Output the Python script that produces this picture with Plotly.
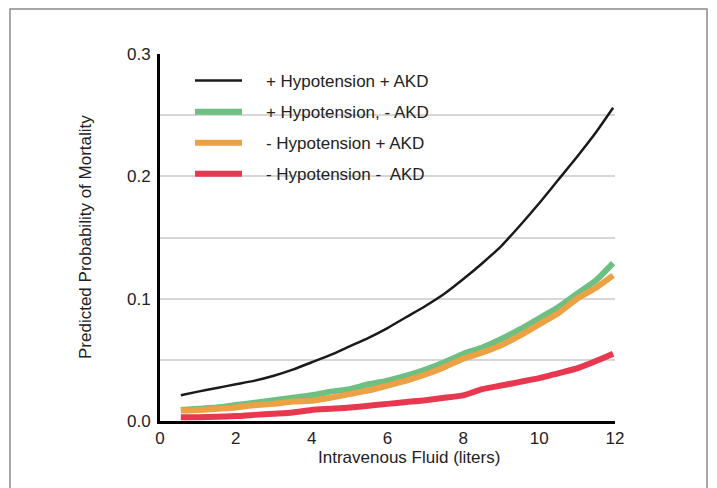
import plotly.graph_objects as go

# Data
fluid = [0.55, 1, 1.5, 2, 2.5, 3, 3.5, 4, 4.5, 5, 5.5, 6, 6.5, 7, 7.5, 8, 8.5, 9, 9.5, 10, 10.5, 11, 11.5, 11.95]
hypo_akd = [0.021, 0.024, 0.027, 0.030, 0.033, 0.037, 0.042, 0.048, 0.054, 0.061, 0.068, 0.076,
            0.085, 0.094, 0.104, 0.116, 0.129, 0.143, 0.160, 0.178, 0.197, 0.216, 0.236, 0.256]
hypo_noakd = [0.009, 0.010, 0.011, 0.013, 0.015, 0.017, 0.019, 0.021, 0.024, 0.026, 0.030, 0.033,
              0.037, 0.042, 0.048, 0.055, 0.060, 0.067, 0.075, 0.084, 0.093, 0.104, 0.115, 0.129]
nohypo_akd = [0.0085, 0.009, 0.010, 0.011, 0.013, 0.014, 0.016, 0.0165, 0.019, 0.022, 0.025, 0.029,
              0.033, 0.038, 0.044, 0.051, 0.056, 0.062, 0.070, 0.079, 0.088, 0.100, 0.109, 0.119]
nohypo_noakd = [0.003, 0.003, 0.0035, 0.004, 0.005, 0.006, 0.007, 0.009, 0.010, 0.011, 0.0125, 0.014,
                0.0155, 0.017, 0.019, 0.021, 0.026, 0.029, 0.032, 0.035, 0.039, 0.043, 0.049, 0.055]

names = ["+ Hypotension + AKD", "+ Hypotension, - AKD", "- Hypotension + AKD", "- Hypotension -  AKD"]
series = [hypo_akd, hypo_noakd, nohypo_akd, nohypo_noakd]
colors = ["#1a1a1a", "#6dbf82", "#eba144", "#e8384f"]
widths = [2.5, 6, 6, 6]

y_ticks = [0, 0.05, 0.1, 0.15, 0.2, 0.25, 0.3]
y_ticktext = ["0.0", "", "0.1", "", "0.2", "", "0.3"]
x_ticks = [0, 2, 4, 6, 8, 10, 12]

PAD = "\u00a0" * 4

fig = go.Figure()
for i, (nm, ys, c, w) in enumerate(zip(names, series, colors, widths)):
    fig.add_trace(go.Scatter(x=fluid, y=ys, mode="lines", name=PAD + nm,
                             line=dict(color=c, width=w, shape="spline", smoothing=0.6),
                             legendgroup=f"g{i}"))

W, H = 717, 488
L, R, T, B = 160, 102, 54, 67
pw, ph = W - L - R, H - T - B

def px(xp):
    return (xp - L) / pw

def py(yp):
    return (H - B - yp) / ph

fig.update_layout(
    width=W, height=H,
    margin=dict(l=L, r=R, t=T, b=B),
    paper_bgcolor="white", plot_bgcolor="white",
    font=dict(family="Liberation Sans, Arial, sans-serif", size=17, color="#222"),
    showlegend=True,
    legend=dict(x=px(190), y=py(63), xanchor="left", yanchor="top",
                bgcolor="rgba(0,0,0,0)", borderwidth=0,
                font=dict(size=17, color="#222"),
                traceorder="grouped", tracegroupgap=6, itemwidth=47),
    xaxis=dict(range=[0, 12], tickvals=x_ticks, showgrid=False, zeroline=False,
               showline=True, linecolor="black", linewidth=3,
               ticks="", ticklabelstandoff=0, tickfont=dict(size=17)),
    yaxis=dict(range=[0, 0.3], tickvals=y_ticks, ticktext=y_ticktext,
               showgrid=True, gridcolor="#d6d6d6", gridwidth=2, zeroline=False,
               showline=True, linecolor="black", linewidth=3,
               ticks="", ticklabelstandoff=3, tickfont=dict(size=17)),
    annotations=[
        dict(text="Intravenous Fluid (liters)", x=px(409), y=py(457), xref="paper", yref="paper",
             showarrow=False, xanchor="center", yanchor="middle", font=dict(size=17)),
        dict(text="Predicted Probability of Mortality", x=px(85), y=py(237), xref="paper", yref="paper",
             showarrow=False, xanchor="center", yanchor="middle", textangle=-90, font=dict(size=17)),
    ],
    shapes=[
        dict(type="rect", xref="paper", yref="paper", x0=px(10), x1=px(707), y0=py(495), y1=py(9),
             line=dict(color="#8a8a8a", width=1.5), layer="below"),
    ],
)

fig.write_html("out.html", config={"displayModeBar": False},
               post_script="document.body.style.margin='0';")
